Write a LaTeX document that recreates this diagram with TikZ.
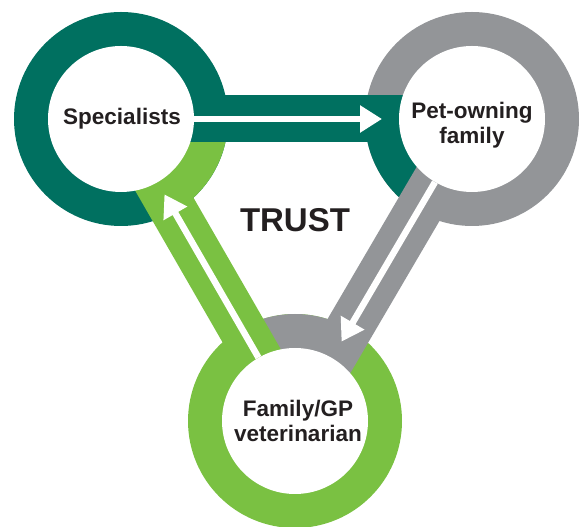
\documentclass[tikz,border=0pt]{standalone}
\usepackage{fontspec}
\setmainfont{Liberation Sans}
\usetikzlibrary{arrows.meta,calc}
\definecolor{trustTeal}{RGB}{0,112,96}
\definecolor{trustGreen}{RGB}{122,193,66}
\definecolor{trustGrey}{RGB}{147,149,152}
\definecolor{trustInk}{RGB}{35,31,32}
\begin{document}
\begin{tikzpicture}[x=1pt,y=1pt]
\tikzstyle{hub}=[circle,fill=white,minimum size=146pt,inner sep=0pt]
\tikzstyle{caption}=[align=center,text=trustInk,font=\fontsize{22.5}{25.5}\selectfont\bfseries]
\tikzstyle{bar}=[line width=47pt]
\tikzstyle{flow}=[draw=white,line width=6.5pt,-{Triangle[length=22pt,width=26pt]}]

\useasboundingbox (0,0) rectangle (584,527);

\coordinate (specC) at (121,408);
\coordinate (petC)  at (472,408);
\coordinate (famC)  at (295,106);

%rings in their own colour
\fill[trustTeal]  (specC) circle[radius=107pt];
\fill[trustGrey]  (petC)  circle[radius=107pt];
\fill[trustGreen] (famC)  circle[radius=107pt];

%inner sectors take the colour of the incoming band
\fill[trustGreen] (specC) -- ++(-60:107pt) arc[start angle=-60, end angle=0, radius=107pt] -- cycle;
\fill[trustTeal]  (petC) -- ++(180:107pt) arc[start angle=180, end angle=239.6, radius=107pt] -- cycle;
\fill[trustGrey]  (famC) -- ++(59.6:107pt) arc[start angle=59.6, end angle=120, radius=107pt] -- cycle;

%bands between the rings
\draw[bar,trustTeal]  (specC) -- (petC);
\draw[bar,trustGrey]  (petC) -- (famC);
\draw[bar,trustGreen] (famC) -- (specC);

\node[hub] (spec) at (specC) {};
\node[hub] (pet)  at (petC)  {};
\node[hub] (fam)  at (famC)  {};

\node[caption] (specText) at ($(specC)+(1,0)$)  {Specialists};
\node[caption] (petText)  at ($(petC)+(0,-6)$)  {Pet-owning\\family};
\node[caption] (famText)  at ($(famC)+(3,0)$)   {Family/GP\\veterinarian};

\coordinate (petIn)  at ($(petC)!90pt!(specC)$);
\coordinate (famIn)  at ($(famC)!92pt!(petC)$);
\coordinate (specIn) at ($(specC)!87pt!(famC)$);

\draw[flow] (spec) -- (petIn);
\draw[flow] (pet) -- (famIn);
\draw[flow] (fam) -- (specIn);

\node[text=trustInk,font=\fontsize{33}{36}\selectfont\bfseries] (trust) at (295,307) {TRUST};

\end{tikzpicture}
\end{document}
